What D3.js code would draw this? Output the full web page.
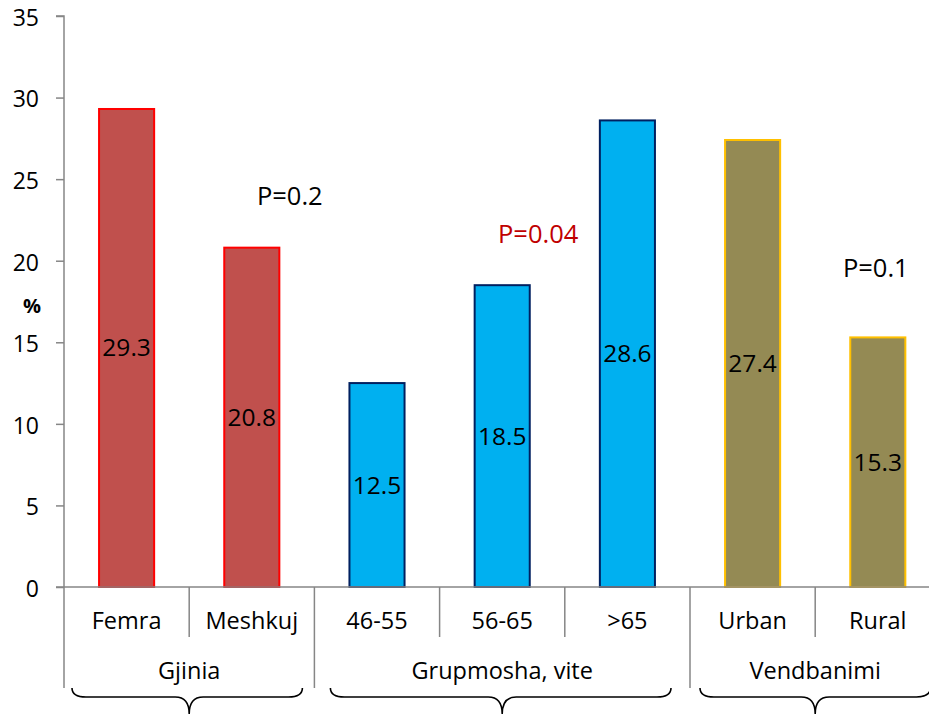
<!DOCTYPE html>
<html>
<head>
<meta charset="utf-8">
<script src="https://cdn.jsdelivr.net/npm/d3@7"></script>
<style>
  html, body { margin: 0; padding: 0; background: #fff; }
  svg { display: block; font-family: "Open Sans", sans-serif; }
</style>
</head>
<body>
<div id="chart"></div>
<script>
// Share (%) by sex, age group and residence
const categories = ["Femra", "Meshkuj", "46-55", "56-65", ">65", "Urban", "Rural"];
const values = [29.3, 20.8, 12.5, 18.5, 28.6, 27.4, 15.3];
const groupOf = ["Gjinia", "Gjinia", "Grupmosha, vite", "Grupmosha, vite", "Grupmosha, vite", "Vendbanimi", "Vendbanimi"];
const groups = ["Gjinia", "Grupmosha, vite", "Vendbanimi"];
const yTicks = [0, 5, 10, 15, 20, 25, 30, 35];
const pLabels = ["P=0.2", "P=0.04", "P=0.1"];
const pLabelAt = [{ cat: "Meshkuj", v: 23.4 }, { cat: "56-65", v: 21.1 }, { cat: "Rural", v: 19.0 }];

const W = 929, H = 717;
const fills = { "Gjinia": "#C0504D", "Grupmosha, vite": "#00B0F0", "Vendbanimi": "#948A54" };
const strokes = { "Gjinia": "#FF0000", "Grupmosha, vite": "#002060", "Vendbanimi": "#FFC000" };
const pColors = ["#000000", "#C00000", "#000000"];
const pOffsets = [38, 36, -2];
const axisColor = "#868686";

const svg = d3.select("#chart").append("svg").attr("width", W).attr("height", H);

const x = d3.scaleBand().domain(categories).range([64, 940.4]).paddingInner(0.56).paddingOuter(0.28);
const y = d3.scaleLinear().domain([0, 35]).range([587, 16]);
const step = x.step();
const left = 64;
const edgeAt = i => left + i * step;

// y axis
const yAxis = svg.append("g").attr("transform", `translate(${left},0)`)
  .call(d3.axisLeft(y).tickValues(yTicks).tickSize(8).tickPadding(17).tickFormat(d3.format("d")));
yAxis.select(".domain").attr("stroke", axisColor).attr("stroke-width", 1.5).attr("d", `M-8,${y(35)}H0V${y(0)}`);
yAxis.selectAll(".tick line").attr("stroke", axisColor).attr("stroke-width", 1.5);
yAxis.selectAll(".tick text").attr("font-size", 23).attr("fill", "#000")
  .attr("font-family", "Open Sans, sans-serif").attr("transform", "translate(0,2)");

// "%" axis title
svg.append("text").attr("x", 32).attr("y", 313).attr("text-anchor", "middle")
  .attr("font-size", 20).attr("font-weight", "bold").text("%");

// bars
svg.append("g").selectAll("rect").data(categories).join("rect")
  .attr("x", d => x(d))
  .attr("y", (d, i) => y(values[i]))
  .attr("width", x.bandwidth())
  .attr("height", (d, i) => y(0) - y(values[i]))
  .attr("fill", (d, i) => fills[groupOf[i]])
  .attr("stroke", (d, i) => strokes[groupOf[i]])
  .attr("stroke-width", 2);

// value labels centred in the bars
svg.append("g").selectAll("text").data(categories).join("text")
  .attr("x", d => x(d) + x.bandwidth() / 2)
  .attr("y", (d, i) => (y(values[i]) + y(0)) / 2 + 8.5)
  .attr("text-anchor", "middle").attr("font-size", 24.5).attr("fill", "#000")
  .text((d, i) => values[i]);

// x axis baseline
svg.append("line").attr("x1", left - 8).attr("x2", edgeAt(7)).attr("y1", y(0)).attr("y2", y(0))
  .attr("stroke", axisColor).attr("stroke-width", 1.5);

// separators: short between categories, long between groups
const sep = svg.append("g").attr("stroke", axisColor).attr("stroke-width", 1.5);
for (let i = 0; i <= categories.length; i++) {
  const isGroupEdge = i === 0 || i === categories.length || groupOf[i] !== groupOf[i - 1];
  sep.append("line").attr("x1", edgeAt(i)).attr("x2", edgeAt(i))
    .attr("y1", y(0)).attr("y2", isGroupEdge ? 688 : 637);
}

// category labels
svg.append("g").selectAll("text").data(categories).join("text")
  .attr("x", d => x(d) + x.bandwidth() / 2).attr("y", 629)
  .attr("text-anchor", "middle").attr("font-size", 23.5).attr("fill", "#000")
  .text(d => d);

// group labels and braces
const braceInsets = [[8, 12], [16, 19], [10, 10]];
groups.forEach((g, gi) => {
  const first = groupOf.indexOf(g), last = groupOf.lastIndexOf(g);
  const x0 = edgeAt(first), x1 = edgeAt(last + 1), xc = (x0 + x1) / 2;
  svg.append("text").attr("x", xc).attr("y", 679).attr("text-anchor", "middle")
    .attr("font-size", 23.5).attr("fill", "#000").text(g);
  const a = x0 + braceInsets[gi][0], b = x1 - braceInsets[gi][1];
  const yt = 688, ym = 697, yb = 714, r = 14;
  const p = `M${a},${yt} Q${a},${ym} ${a + r},${ym} L${xc - r},${ym} Q${xc},${ym} ${xc},${yb} Q${xc},${ym} ${xc + r},${ym} L${b - r},${ym} Q${b},${ym} ${b},${yt}`;
  svg.append("path").attr("d", p).attr("fill", "none").attr("stroke", "#000").attr("stroke-width", 1.6);
});

// significance annotations
svg.append("g").selectAll("text").data(pLabels).join("text")
  .attr("x", (d, i) => x(pLabelAt[i].cat) + x.bandwidth() / 2 + pOffsets[i])
  .attr("y", (d, i) => y(pLabelAt[i].v))
  .attr("text-anchor", "middle").attr("font-size", 25.5)
  .attr("fill", (d, i) => pColors[i])
  .text(d => d);
</script>
</body>
</html>
